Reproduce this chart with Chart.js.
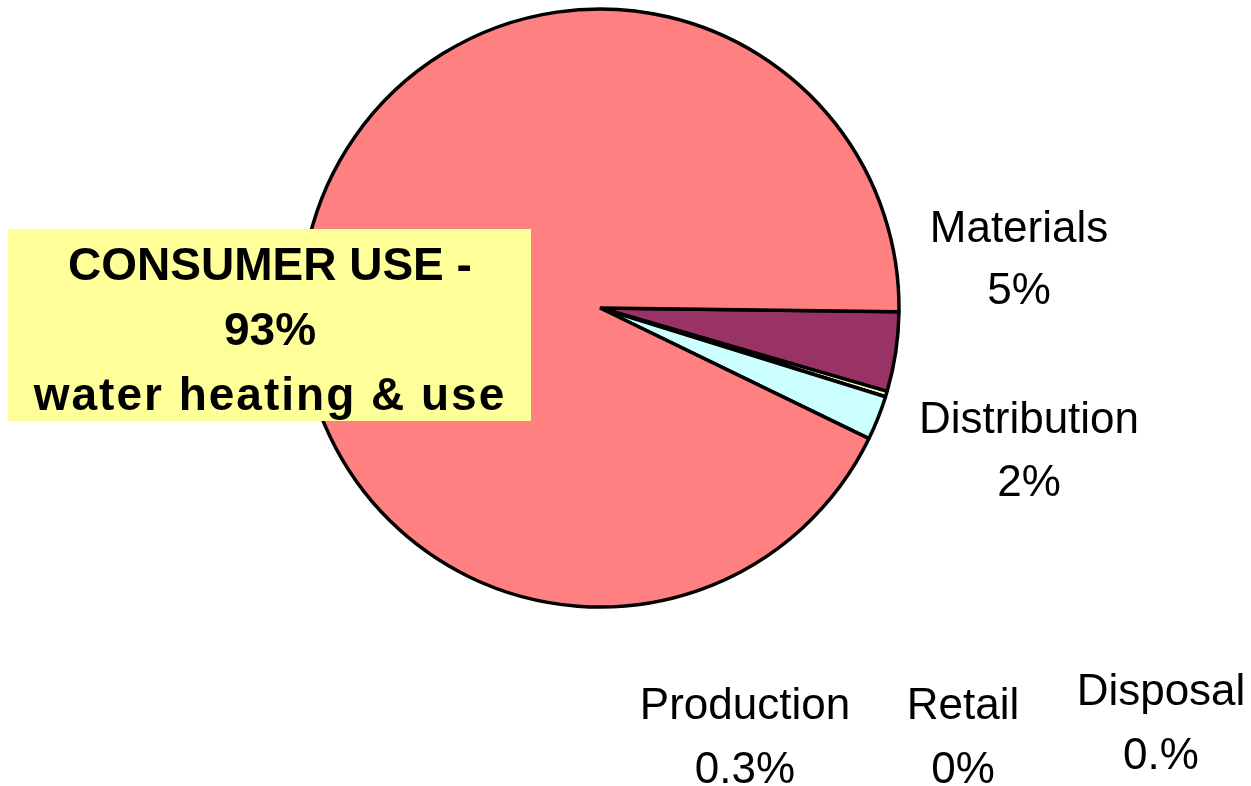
<!DOCTYPE html>
<html>
<head>
<meta charset="utf-8">
<script src="https://cdn.jsdelivr.net/npm/chart.js@4"></script>
<style>
  html, body { margin: 0; padding: 0; background: #ffffff; }
  #wrap { width: 1251px; height: 786px; position: relative; }
</style>
</head>
<body>
<div id="wrap"><canvas id="c" width="1251" height="786"></canvas></div>
<script>
// ---- data ----
const categories = ["Materials", "Production", "Distribution", "Retail", "Disposal", "Consumer Use"];
const shares = [4.3, 0.3, 2.4, 0, 0, 93];
const shareLabels = ["5%", "0.3%", "2%", "0%", "0.%", "93%"];
const sliceColors = ["#993366", "#FFFFCC", "#CCFFFF", "#FFFFFF", "#FFFFFF", "#FF8080"];
const consumerLines = ["CONSUMER USE -", "93%", "water heating & use"];

// ---- layout (positions only) ----
const labelPos = [
  {x: 1019, y1: 242, y2: 304},   // Materials
  {x: 745,  y1: 719, y2: 783},   // Production
  {x: 1029, y1: 433, y2: 496},   // Distribution
  {x: 963,  y1: 719, y2: 783},   // Retail
  {x: 1161, y1: 705, y2: 769}    // Disposal
];
const box = {x: 8, y: 229, w: 523, h: 192, cx: 270, baselines: [280, 345, 410]};

const labelsPlugin = {
  id: 'labelsPlugin',
  afterDatasetsDraw(chart) {
    const ctx = chart.ctx;
    ctx.save();
    // consumer use call-out box
    ctx.fillStyle = '#FFFF99';
    ctx.fillRect(box.x, box.y, box.w, box.h);
    ctx.fillStyle = '#000000';
    ctx.textAlign = 'center';
    ctx.textBaseline = 'alphabetic';
    ctx.font = 'bold 46px "Liberation Sans", Arial, sans-serif';
    consumerLines.forEach((t, i) => {
      ctx.letterSpacing = (i === 2) ? '2px' : '0px';
      ctx.fillText(t, box.cx, box.baselines[i]);
    });
    ctx.letterSpacing = '0px';
    // other labels
    ctx.font = '44px "Liberation Sans", Arial, sans-serif';
    labelPos.forEach((p, i) => {
      ctx.fillText(categories[i], p.x, p.y1);
      ctx.fillText(shareLabels[i], p.x, p.y2);
    });
    ctx.restore();
  }
};

new Chart(document.getElementById('c'), {
  type: 'pie',
  data: {
    labels: categories,
    datasets: [{
      data: shares,
      backgroundColor: sliceColors,
      borderColor: '#000000',
      borderWidth: 3.5,
      radius: 299
    }]
  },
  options: {
    responsive: false,
    animation: false,
    rotation: 90.7,
    layout: { padding: { left: 0, right: 51, top: 0, bottom: 170 } },
    plugins: {
      legend: { display: false },
      tooltip: { enabled: false },
      title: { display: false }
    }
  },
  plugins: [labelsPlugin]
});
</script>
</body>
</html>
